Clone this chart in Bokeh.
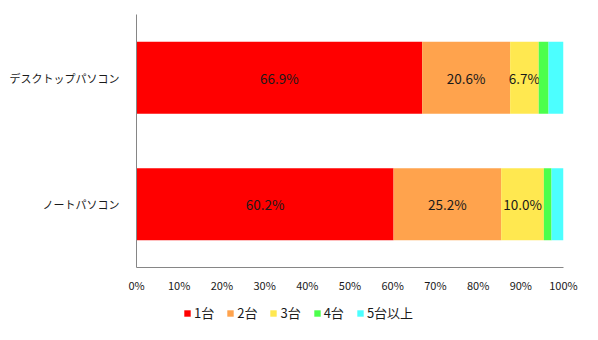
from bokeh.plotting import figure
from bokeh.layouts import column
from bokeh.models import ColumnDataSource, FixedTicker, Legend, LegendItem, FactorRange, Range1d
from bokeh.core.properties import value
from bokeh.embed import file_html
from bokeh.resources import INLINE

categories = ["ノートパソコン", "デスクトップパソコン"]
series_names = ["1台", "2台", "3台", "4台", "5台以上"]
one = [60.2, 66.9]
two = [25.2, 20.6]
three = [10.0, 6.7]
four = [1.8, 2.3]
five_plus = [2.8, 3.5]
colors = ["#FF0000", "#FFA34D", "#FFE850", "#4CFF4C", "#4CFFFF"]
x_ticks = [0, 10, 20, 30, 40, 50, 60, 70, 80, 90, 100]
tick_labels = ["0%", "10%", "20%", "30%", "40%", "50%", "60%", "70%", "80%", "90%", "100%"]

FONT = "Noto Sans CJK JP"

p = figure(width=598, height=300, output_backend="svg", toolbar_location=None,
           y_range=FactorRange(*categories, range_padding=0), x_range=Range1d(0, 100),
           min_border_left=136, min_border_right=35, min_border_top=14, min_border_bottom=33)
p.outline_line_color = None
p.background_fill_color = "white"
p.border_fill_color = "white"

series = [one, two, three, four, five_plus]
left = [0.0] * len(categories)
for name, vals, col in zip(series_names, series, colors):
    right = [l + v for l, v in zip(left, vals)]
    src = ColumnDataSource(dict(y=categories, left=left, right=right,
                                mid=[(l + r) / 2 for l, r in zip(left, right)],
                                lab=[f"{v:.1f}%" if v >= 5 else "" for v in vals]))
    p.hbar(y="y", left="left", right="right", height=0.57, source=src,
           fill_color=col, line_color=None)
    p.text(x="mid", y="y", text="lab", source=src, text_align="center", text_baseline="middle",
           text_font=value(FONT), text_font_size="13.5px", text_color="#1a1a1a")
    left = right

p.xgrid.visible = False
p.ygrid.visible = False

xa = p.xaxis[0]
xa.ticker = FixedTicker(ticks=x_ticks)
xa.major_label_overrides = {t: l for t, l in zip(x_ticks, tick_labels)}
xa.major_tick_line_color = None
xa.minor_tick_line_color = None
xa.axis_line_color = "#868686"
xa.major_label_text_font = FONT
xa.major_label_text_font_size = "11px"
xa.major_label_text_color = "#1a1a1a"
xa.major_label_standoff = 3

ya = p.yaxis[0]
ya.major_tick_line_color = None
ya.minor_tick_line_color = None
ya.axis_line_color = "#868686"
ya.major_label_text_font = FONT
ya.major_label_text_font_size = "11px"
ya.major_label_text_color = "#1a1a1a"
ya.major_label_standoff = 11

# legend strip
lg = figure(width=598, height=40, output_backend="svg", toolbar_location=None,
            x_range=Range1d(0, 1), y_range=Range1d(0, 1),
            min_border=0, x_axis_location=None, y_axis_location=None)
lg.outline_line_color = None
lg.xgrid.visible = False
lg.ygrid.visible = False
items = []
for name, col in zip(series_names, colors):
    r = lg.hbar(y=[-5], left=[-5], right=[-4], height=0.5, fill_color=col, line_color=None)
    items.append(LegendItem(label=name, renderers=[r]))
legend = Legend(items=items, orientation="horizontal", location=(47, 18),
                label_text_font=FONT, label_text_font_size="13px", label_text_color="#1a1a1a",
                glyph_width=8, glyph_height=8, label_standoff=3, spacing=12,
                padding=0, margin=0, border_line_color=None, background_fill_alpha=0,
                label_height=14)
lg.add_layout(legend, "center")

layout = column(p, lg, spacing=0)
open("out.html", "w").write(file_html(layout, INLINE))
